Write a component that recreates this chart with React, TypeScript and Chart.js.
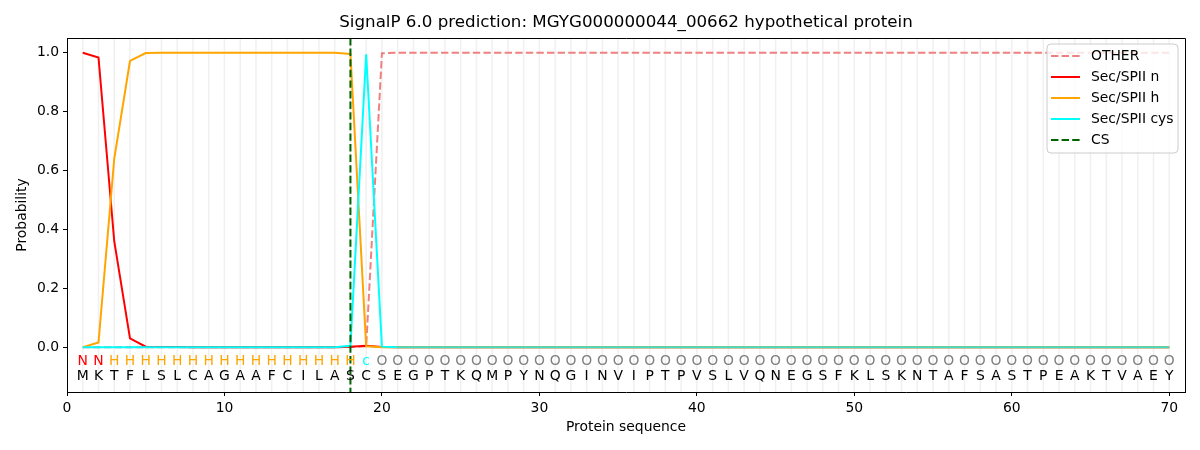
import { useEffect, useRef } from "react";
import { Chart, registerables, type Plugin } from "chart.js";

Chart.register(...registerables);

const FONT = "'DejaVu Sans', sans-serif";

const titleText = "SignalP 6.0 prediction: MGYG000000044_00662 hypothetical protein";

// one residue per position, 1..70
const residues = "MKTFLSLCAGAAFCILASCSEGPTKQMPYNQGINVIPTPVSLVQNEGSFKLSKNTAFSASTPEAKTVAEY".split("");
// predicted region per residue: 2 n, 16 h, 1 cys, 51 other
const regionLabels = ("NN" + "H".repeat(16) + "c" + "O".repeat(51)).split("");
const regionColors: Record<string, string> = { N: "#ff0000", H: "#ffa500", c: "#00ffff", O: "#808080" };

const otherProb = [
  0, 0, 0, 0, 0, 0, 0, 0, 0, 0, 0, 0, 0, 0, 0, 0, 0, 0.001, 0.003, 0.998,
  1, 1, 1, 1, 1, 1, 1, 1, 1, 1, 1, 1, 1, 1, 1, 1, 1, 1, 1, 1,
  1, 1, 1, 1, 1, 1, 1, 1, 1, 1, 1, 1, 1, 1, 1, 1, 1, 1, 1, 1,
  1, 1, 1, 1, 1, 1, 1, 1, 1, 1,
];
const nProb = [
  1.0, 0.984, 0.36, 0.03, 0.002, 0.001, 0.001, 0, 0, 0, 0, 0, 0, 0, 0, 0, 0, 0.002, 0.005, 0.001,
  0, 0, 0, 0, 0, 0, 0, 0, 0, 0, 0, 0, 0, 0, 0, 0, 0, 0, 0, 0,
  0, 0, 0, 0, 0, 0, 0, 0, 0, 0, 0, 0, 0, 0, 0, 0, 0, 0, 0, 0,
  0, 0, 0, 0, 0, 0, 0, 0, 0, 0,
];
const hProb = [
  0.0, 0.016, 0.64, 0.972, 0.999, 1, 1, 1, 1, 1, 1, 1, 1, 1, 1, 1, 1, 0.996, 0.003, 0.0,
  0, 0, 0, 0, 0, 0, 0, 0, 0, 0, 0, 0, 0, 0, 0, 0, 0, 0, 0, 0,
  0, 0, 0, 0, 0, 0, 0, 0, 0, 0, 0, 0, 0, 0, 0, 0, 0, 0, 0, 0,
  0, 0, 0, 0, 0, 0, 0, 0, 0, 0,
];
const cysProb = [
  0, 0, 0, 0, 0, 0, 0, 0, 0, 0, 0, 0, 0, 0, 0, 0, 0, 0.005, 0.995, 0.002,
  0, 0, 0, 0, 0, 0, 0, 0, 0, 0, 0, 0, 0, 0, 0, 0, 0, 0, 0, 0,
  0, 0, 0, 0, 0, 0, 0, 0, 0, 0, 0, 0, 0, 0, 0, 0, 0, 0, 0, 0,
  0, 0, 0, 0, 0, 0, 0, 0, 0, 0,
];
const csPosition = 18;

const xTicks = [0, 10, 20, 30, 40, 50, 60, 70];
const yTicks = [0, 0.2, 0.4, 0.6, 0.8, 1.0];

const legendItems = [
  { label: "OTHER", color: "#f08080", dash: [7.4, 3.2] },
  { label: "Sec/SPII n", color: "#ff0000", dash: [] as number[] },
  { label: "Sec/SPII h", color: "#ffa500", dash: [] as number[] },
  { label: "Sec/SPII cys", color: "#00ffff", dash: [] as number[] },
  { label: "CS", color: "#006400", dash: [7.4, 3.2] },
];

const toPoints = (arr: number[]) => arr.map((y, i) => ({ x: i + 1, y }));

const decorations: Plugin = {
  id: "decorations",
  beforeDatasetsDraw(chart) {
    const { ctx, chartArea, scales } = chart;
    ctx.save();
    ctx.strokeStyle = "rgba(0,0,0,0.06)";
    ctx.lineWidth = 1.6;
    residues.forEach((_, i) => {
      const px = scales.x.getPixelForValue(i + 1);
      ctx.beginPath();
      ctx.moveTo(px, chartArea.top);
      ctx.lineTo(px, chartArea.bottom);
      ctx.stroke();
    });
    ctx.restore();
  },
  afterDatasetsDraw(chart) {
    const { ctx, chartArea, scales } = chart;
    ctx.save();

    // cleavage site
    const csX = scales.x.getPixelForValue(csPosition);
    ctx.strokeStyle = "#006400";
    ctx.lineWidth = 2;
    ctx.setLineDash([7.4, 3.2]);
    ctx.beginPath();
    ctx.moveTo(csX, chartArea.top);
    ctx.lineTo(csX, chartArea.bottom);
    ctx.stroke();
    ctx.setLineDash([]);

    // top and right spines
    ctx.strokeStyle = "#000";
    ctx.lineWidth = 1;
    ctx.beginPath();
    ctx.moveTo(Math.round(chartArea.left) + 0.5, Math.round(chartArea.top) + 0.5);
    ctx.lineTo(Math.round(chartArea.right) + 0.5, Math.round(chartArea.top) + 0.5);
    ctx.lineTo(Math.round(chartArea.right) + 0.5, Math.round(chartArea.bottom) + 0.5);
    ctx.stroke();

    // residue letters and region labels
    ctx.font = `13.9px ${FONT}`;
    ctx.textAlign = "center";
    ctx.textBaseline = "middle";
    const seqY = scales.y.getPixelForValue(-0.098);
    const labY = scales.y.getPixelForValue(-0.047);
    residues.forEach((r, i) => {
      const px = scales.x.getPixelForValue(i + 1);
      ctx.fillStyle = "#000";
      ctx.fillText(r, px, seqY);
      ctx.fillStyle = regionColors[regionLabels[i]];
      ctx.fillText(regionLabels[i], px, labY);
    });

    // title and axis titles
    const midX = (chartArea.left + chartArea.right) / 2;
    ctx.fillStyle = "#000";
    ctx.font = `16.7px ${FONT}`;
    ctx.fillText(titleText, midX, 23);
    ctx.font = `13.9px ${FONT}`;
    ctx.fillText("Protein sequence", midX, 427);
    ctx.save();
    ctx.translate(22, (chartArea.top + chartArea.bottom) / 2);
    ctx.rotate(-Math.PI / 2);
    ctx.fillText("Probability", 0, 0);
    ctx.restore();

    // legend
    ctx.fillStyle = "rgba(255,255,255,0.8)";
    ctx.strokeStyle = "#cccccc";
    ctx.lineWidth = 1;
    ctx.beginPath();
    ctx.roundRect(1047, 44, 131, 109, 4);
    ctx.fill();
    ctx.stroke();
    ctx.textAlign = "left";
    legendItems.forEach((item, i) => {
      const y = 56 + i * 21;
      ctx.strokeStyle = item.color;
      ctx.lineWidth = 2;
      ctx.setLineDash(item.dash);
      ctx.beginPath();
      ctx.moveTo(1051, y);
      ctx.lineTo(1080, y);
      ctx.stroke();
      ctx.setLineDash([]);
      ctx.fillStyle = "#000";
      ctx.fillText(item.label, 1091, y);
    });

    ctx.restore();
  },
};

export default function App() {
  const canvasRef = useRef<HTMLCanvasElement>(null);

  useEffect(() => {
    if (!canvasRef.current) return;
    const chart = new Chart(canvasRef.current, {
      type: "line",
      data: {
        datasets: [
          {
            label: "OTHER",
            data: toPoints(otherProb),
            borderColor: "#f08080",
            borderDash: [7.4, 3.2],
            borderWidth: 2,
            pointRadius: 0,
            order: 3,
          },
          {
            label: "Sec/SPII n",
            data: toPoints(nProb),
            borderColor: "#ff0000",
            borderWidth: 2,
            pointRadius: 0,
            order: 2,
          },
          {
            label: "Sec/SPII h",
            data: toPoints(hProb),
            borderColor: "#ffa500",
            borderWidth: 2,
            pointRadius: 0,
            order: 1,
          },
          {
            label: "Sec/SPII cys",
            data: toPoints(cysProb),
            borderColor: "#00ffff",
            borderWidth: 2,
            pointRadius: 0,
            order: 0,
            segment: {
              borderColor: (c) => (c.p0.parsed.x >= 21 ? "#40e0c8" : "#00ffff"),
            },
          },
        ],
      },
      options: {
        animation: false,
        responsive: true,
        maintainAspectRatio: false,
        layout: { padding: { top: 38, right: 15, left: 0, bottom: 0 } },
        plugins: {
          legend: { display: false },
          title: { display: false },
          tooltip: { enabled: false },
        },
        scales: {
          x: {
            type: "linear",
            min: 0,
            max: 71,
            afterBuildTicks: (s) => {
              s.ticks = xTicks.map((value) => ({ value }));
            },
            afterFit: (s) => {
              s.height = 58;
            },
            grid: { drawOnChartArea: false, tickLength: 4, color: "#000" },
            border: { color: "#000", width: 1 },
            ticks: {
              color: "#000",
              padding: 4,
              maxRotation: 0,
              font: { family: FONT, size: 13.9 },
            },
          },
          y: {
            min: -0.152,
            max: 1.05,
            afterBuildTicks: (s) => {
              s.ticks = yTicks.map((value) => ({ value }));
            },
            afterFit: (s) => {
              s.width = 67;
            },
            grid: { drawOnChartArea: false, tickLength: 4, color: "#000" },
            border: { color: "#000", width: 1 },
            ticks: {
              color: "#000",
              padding: 4,
              callback: (v) => Number(v).toFixed(1),
              font: { family: FONT, size: 13.9 },
            },
          },
        },
      },
      plugins: [decorations],
    });
    return () => chart.destroy();
  }, []);

  return (
    <div style={{ position: "absolute", left: 0, top: 0, width: 1200, height: 450, background: "#fff" }}>
      <canvas ref={canvasRef} />
    </div>
  );
}
